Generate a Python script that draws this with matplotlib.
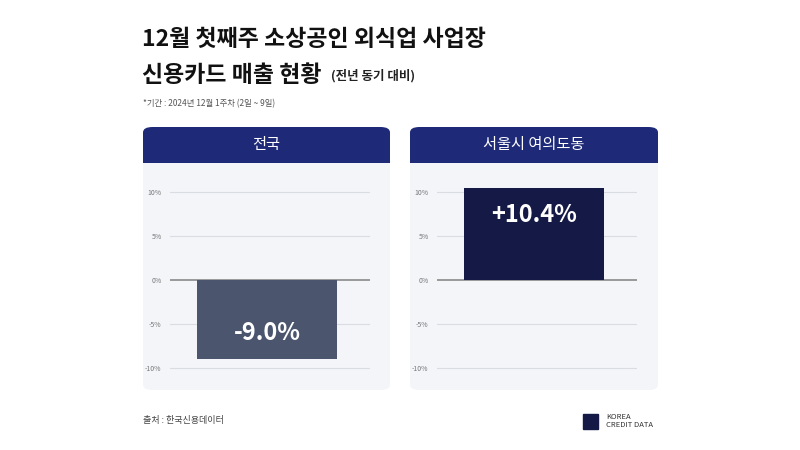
import matplotlib
matplotlib.use("Agg")
import matplotlib.pyplot as plt
from matplotlib.patches import FancyBboxPatch, Rectangle

plt.rcParams['font.family'] = ['Noto Sans CJK KR', 'DejaVu Sans']

regions = ["전국", "서울시 여의도동"]
values = [-9.0, 10.4]
labels = ["-9.0%", "+10.4%"]
ticks = [10, 5, 0, -5, -10]
tick_labels = ["10%", "5%", "0%", "-5%", "-10%"]
bar_colors = ["#4b566e", "#141a45"]

W, H = 800, 450
fig = plt.figure(figsize=(8, 4.5), dpi=100)
fig.patch.set_facecolor("white")

def fx(px): return px / W
def fy(py): return 1 - py / H

fig.text(fx(142), fy(40), "12월 첫째주 소상공인 외식업 사업장", fontsize=16.5, fontweight="bold", color="#111111", va="center")
fig.text(fx(142), fy(75), "신용카드 매출 현황", fontsize=16.5, fontweight="bold", color="#111111", va="center")
fig.text(fx(331), fy(76), "(전년 동기 대비)", fontsize=9, fontweight="bold", color="#222222", va="center")
fig.text(fx(143), fy(104), "*기간 : 2024년 12월 1주차 (2일 ~ 9일)", fontsize=6, color="#555555", va="center")
fig.text(fx(143), fy(421), "출처 : 한국신용데이터", fontsize=6.5, color="#444444", va="center")
fig.patches.append(Rectangle((fx(583), fy(429)), fx(15), 15 / H, transform=fig.transFigure, color="#141a45"))
fig.text(fx(606), fy(417), "KOREA", fontsize=5.5, color="#333333", va="center")
fig.text(fx(606), fy(425), "CREDIT DATA", fontsize=5.5, color="#333333", va="center")

panels = [(143, 390), (410, 658)]
for i, (x0, x1) in enumerate(panels):
    body = FancyBboxPatch((fx(x0), fy(390)), fx(x1 - x0), (390 - 140) / H,
                          boxstyle="round,pad=0,rounding_size=0.012", transform=fig.transFigure,
                          facecolor="#f3f5f9", edgecolor="none", zorder=-2)
    fig.patches.append(body)
    head = FancyBboxPatch((fx(x0), fy(163)), fx(x1 - x0), (163 - 127) / H,
                          boxstyle="round,pad=0,rounding_size=0.012", transform=fig.transFigure,
                          facecolor="#1e2a78", edgecolor="none", zorder=-1)
    fig.patches.append(head)
    fig.patches.append(Rectangle((fx(x0), fy(163)), fx(x1 - x0), 10 / H, transform=fig.transFigure,
                                 facecolor="#1e2a78", edgecolor="none", zorder=-1))
    fig.text(fx((x0 + x1) / 2), fy(145), regions[i], fontsize=11, color="white", ha="center", va="center")

    ax0 = x0 + 27
    ax = fig.add_axes([fx(ax0), fy(385), fx(200), (385 - 165) / H])
    ax.set_zorder(5)
    ax.set_facecolor("none")
    ax.set_ylim(-(385 - 280) / 8.8, (280 - 165) / 8.8)
    ax.set_xlim(0, 1)
    for t in ticks:
        ax.axhline(t, color="#8a8a8a" if t == 0 else "#d9dce2", lw=1.2 if t == 0 else 0.8, zorder=1)
    ax.bar([0.485], [values[i]], width=0.7, color=bar_colors[i], zorder=2)
    ax.text(0.485, values[i] * 0.67 if values[i] < 0 else values[i] - 3.0, labels[i],
            ha="center", va="center", color="white", fontsize=17, fontweight="semibold", zorder=3)
    ax.set_yticks(ticks)
    ax.set_yticklabels(tick_labels, fontsize=5, color="#777777")
    ax.tick_params(length=0, pad=6)
    ax.set_xticks([])
    for s in ax.spines.values():
        s.set_visible(False)

fig.savefig("out.png", dpi=100)
